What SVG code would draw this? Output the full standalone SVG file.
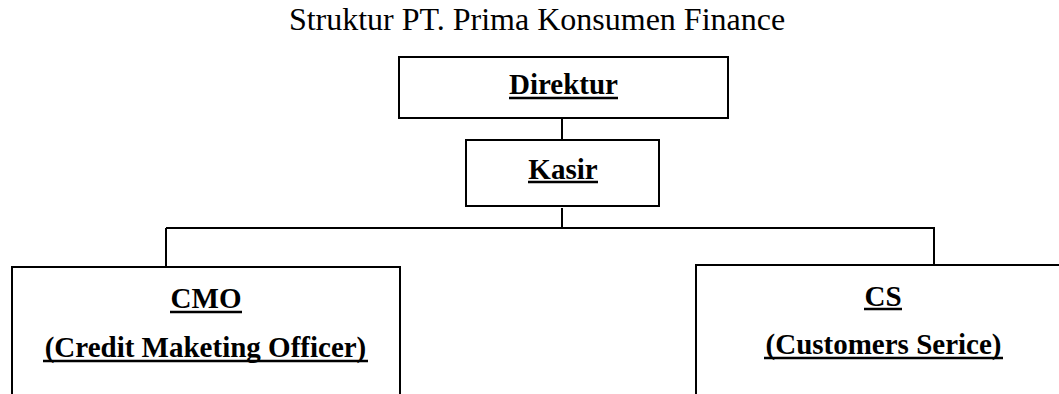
<svg xmlns="http://www.w3.org/2000/svg" width="1059" height="394" viewBox="0 0 1059 394">
<style>
.box{fill:#fff;stroke:#000;stroke-width:2}
.conn line{stroke:#000;stroke-width:2}
.ul{stroke:#000;stroke-width:2.5}
.t{font-family:"Liberation Serif","Times New Roman",serif;fill:#000;text-anchor:middle}
.b{font-weight:bold;font-size:29px}
.title{font-size:32px}
</style>
<rect width="1059" height="394" fill="#fff"/>
<text class="t title" x="537" y="30">Struktur PT. Prima Konsumen Finance</text>
<g class="conn" id="connectors">
<line x1="562" y1="119" x2="562" y2="141"/>
<line x1="562" y1="208" x2="562" y2="229"/>
<line x1="166" y1="228" x2="935" y2="228"/>
<line x1="166" y1="228" x2="166" y2="268"/>
<line x1="934" y1="228" x2="934" y2="266"/>
</g>
<g id="direktur">
<rect class="box" x="399" y="57" width="329" height="61"/>
<text class="t b" x="563.5" y="94">Direktur</text>
<line class="ul" x1="509" y1="98" x2="618" y2="98"/>
</g>
<g id="kasir">
<rect class="box" x="466" y="140" width="193" height="66"/>
<text class="t b" x="563" y="179">Kasir</text>
<line class="ul" x1="528" y1="182" x2="598" y2="182"/>
</g>
<g id="cmo">
<rect class="box" x="12" y="267" width="388" height="140"/>
<text class="t b" x="206" y="308">CMO</text>
<line class="ul" x1="170" y1="312" x2="242" y2="312"/>
<text class="t b" x="205.5" y="357">(Credit Maketing Officer)</text>
<line class="ul" x1="43" y1="361" x2="368" y2="361"/>
</g>
<g id="cs">
<rect class="box" x="696" y="265" width="376" height="140"/>
<text class="t b" x="883" y="306">CS</text>
<line class="ul" x1="864" y1="309" x2="902" y2="309"/>
<text class="t b" x="883.5" y="354">(Customers Serice)</text>
<line class="ul" x1="764" y1="358" x2="1003" y2="358"/>
</g>
</svg>
